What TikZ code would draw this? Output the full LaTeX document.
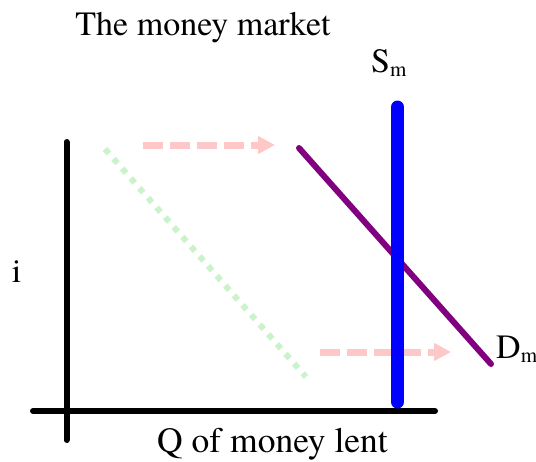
\documentclass[tikz,border=0pt]{standalone}
\usepackage{fontspec}
\setmainfont{texgyretermes-regular.otf}
\usetikzlibrary{arrows.meta}
\definecolor{shiftpink}{RGB}{255,200,200}
\definecolor{oldgreen}{RGB}{204,242,204}
\definecolor{dpurple}{RGB}{128,0,128}
\newcommand{\subm}{\raisebox{-4pt}{\fontsize{21}{21}\selectfont m}}
\tikzset{
  lbl/.style={font=\rmfamily\fontsize{34}{34}\selectfont, inner sep=0pt},
  biglbl/.style={font=\rmfamily\fontsize{35.5}{35.5}\selectfont, inner sep=0pt},
  axisline/.style={line width=6pt, line cap=round, black},
  shiftarrow/.style={shiftpink, line width=7pt, dash pattern=on 20pt off 7pt, -{Triangle[length=17pt,width=17pt]}},
  oldcurve/.style={oldgreen, line width=6pt, dash pattern=on 6pt off 7pt},
  supply/.style={blue, line width=13pt, line cap=round},
  demand/.style={dpurple, line width=6pt, line cap=round}
}
\begin{document}
\begin{tikzpicture}[x=1pt,y=-1pt]
\useasboundingbox (0,0) rectangle (536,461);
% coordinates
\coordinate (yTop) at (66.5,142);
\coordinate (yBot) at (66.5,440);
\coordinate (xL) at (33,411);
\coordinate (xR) at (435,411);
\coordinate (gA) at (105,149);
\coordinate (gB) at (306,377);
\coordinate (p1s) at (143,145);
\coordinate (p1e) at (275,145);
\coordinate (p2s) at (320,352);
\coordinate (p2e) at (451,352);
\coordinate (dA) at (299,148);
\coordinate (dB) at (491,364);
\coordinate (sTop) at (397.5,107);
\coordinate (sBot) at (397.5,402);
% old demand (dotted)
\draw[oldcurve] (gA) -- (gB);
% shift arrows
\draw[shiftarrow] (p1s) -- (p1e);
\draw[shiftarrow] (p2s) -- (p2e);
% axes
\draw[axisline] (yTop) -- (yBot);
\draw[axisline] (xL) -- (xR);
% demand
\draw[demand] (dA) -- (dB);
% supply
\draw[supply] (sTop) -- (sBot);
% labels
\node[lbl, anchor=base] (title) at (203,35) {The money market};
\node[biglbl, anchor=base] (qlab) at (272.5,452) {Q of money lent};
\node[lbl, anchor=base] (ilab) at (16.5,282) {i};
\node[lbl, anchor=base west] (slab) at (371,72) {S\subm};
\node[lbl, anchor=base west] (dlab) at (496,358) {D\subm};
\end{tikzpicture}
\end{document}
